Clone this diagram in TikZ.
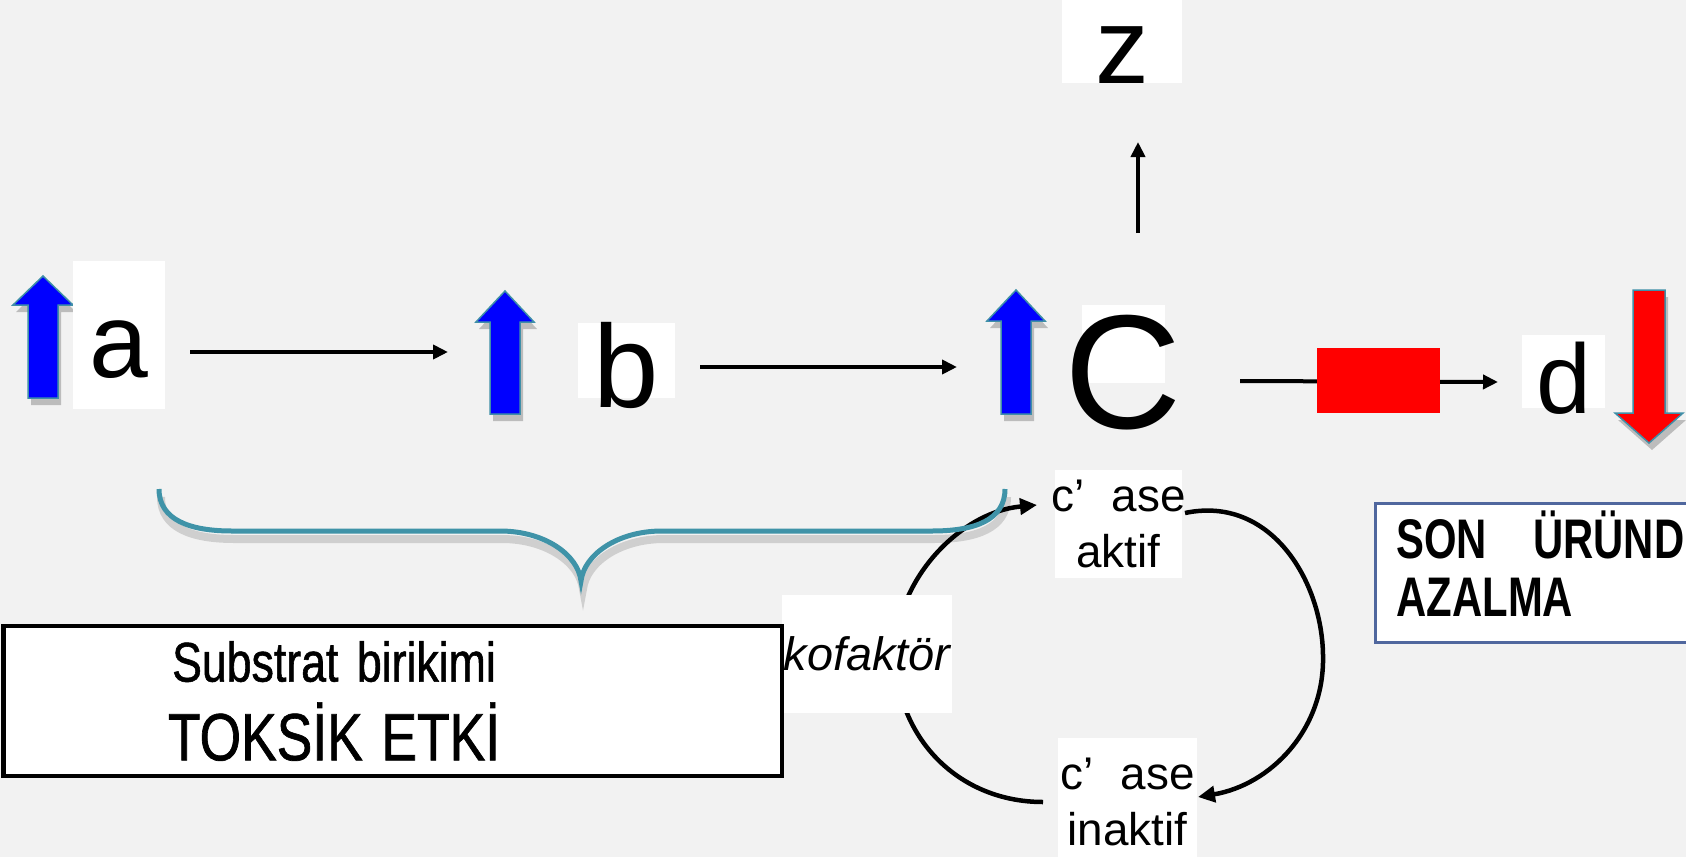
\documentclass[tikz,border=0pt]{standalone}
\usepackage{fontspec}
\setmainfont{Liberation Sans}
\newfontfamily\narrowfont[FakeStretch=0.8,FakeBold=1]{Liberation Sans}
\newfontfamily\sonfont[FakeStretch=0.75]{Liberation Sans Bold}
\usetikzlibrary{arrows.meta}
\definecolor{bgc}{HTML}{F2F2F2}
\definecolor{bracec}{HTML}{3F93A8}
\definecolor{sonc}{HTML}{50679E}
\definecolor{arrowedge}{HTML}{3F8FA8}
\newcommand\fatarrow[7]{%
  \fill[black,opacity=0.22,shift={(3,7)}] ({#1-#6},#4) -- ({#1-#6},#3) -- ({#1-#5},#3) -- (#1,#2) -- ({#1+#5},#3) -- ({#1+#6},#3) -- ({#1+#6},#4) -- cycle;
  \filldraw[fill=#7,draw=arrowedge,line width=1.5bp] ({#1-#6},#4) -- ({#1-#6},#3) -- ({#1-#5},#3) -- (#1,#2) -- ({#1+#5},#3) -- ({#1+#6},#3) -- ({#1+#6},#4) -- cycle;}
\begin{document}
\begin{tikzpicture}[x=1bp,y=-1bp,
  lbl/.style={fill=white,inner sep=0pt,align=center},
  conn/.style={line width=4bp,-{Triangle[length=15bp,width=14bp]}},
  cyc/.style={line width=4.5bp,-{Triangle[length=17bp,width=16bp]}}]
\useasboundingbox (0,0) rectangle (1686,857);
\clip (0,0) rectangle (1686,857);
\fill[bgc] (0,0) rectangle (1686,857);

% fat arrows
\fatarrow{43}{276}{305}{398}{30}{15}{blue}
\fatarrow{505}{291}{322}{414}{29}{15}{blue}
\fatarrow{1016}{290}{321}{414}{29}{15}{blue}
\fatarrow{1649}{443}{413}{290}{34}{16}{red}

% cycle arcs
\coordinate (l1) at (1043,802);
\coordinate (l2) at (1037,505);
\coordinate (r1) at (1185,513);
\coordinate (r2) at (1198,797);
\draw[cyc] (l1) .. controls (960,802) and (897,740) .. (895,655) .. controls (895,580) and (960,512) .. (l2);
\draw[cyc] (r1) .. controls (1270,495) and (1322,580) .. (1323,655) .. controls (1325,730) and (1270,785) .. (r2);

% letter nodes
\node[lbl,text width=92bp,text height=116bp,text depth=32bp,anchor=base,font=\fontsize{106}{110}\selectfont] (a) at (119,377) {\makebox[0pt]{a}};
\node[lbl,text width=97bp,text height=75bp,text depth=0bp,anchor=base,font=\fontsize{118}{120}\selectfont] (b) at (626.5,398) {\makebox[0pt]{\raisebox{-9bp}{b}}};
\node[lbl,text width=83bp,text height=78bp,text depth=0bp,anchor=base,font=\fontsize{163}{165}\selectfont] (c) at (1123.5,383) {\makebox[0pt]{\raisebox{-45bp}{C}}};
\node[lbl,text width=83bp,text height=73bp,text depth=0bp,anchor=base,font=\fontsize{99}{100}\selectfont] (d) at (1563.5,408) {\makebox[0pt]{\raisebox{-5bp}{d}}};
\node[lbl,text width=120bp,text height=83bp,text depth=0bp,anchor=base,font=\fontsize{108}{110}\selectfont] (z) at (1122,83) {\makebox[0pt]{z}};

% main connectors
\coordinate (ab1) at (190,352);
\coordinate (ab2) at (448,352);
\coordinate (bc1) at (700,367);
\coordinate (bc2) at (957,367);
\coordinate (cz1) at (1138,233);
\coordinate (cz2) at (1138,142);
\coordinate (cd1) at (1240,381);
\coordinate (cd2) at (1498,382);
\draw[conn] (ab1) -- (ab2);
\draw[conn] (bc1) -- (bc2);
\draw[conn] (cz1) -- (cz2);
\draw[conn] (cd1) -- (cd2);
\node[fill=red,inner sep=0pt,minimum width=123bp,minimum height=65bp] (blk) at (1378.5,380.5) {};

% kofaktor
\node[lbl,text width=170bp,text height=75bp,text depth=43bp,anchor=base,font=\itshape\fontsize{47}{50}\selectfont] (kof) at (867,670) {\makebox[0pt]{kofaktör}};

% enzyme states
\node[lbl,minimum width=127bp,minimum height=108bp,font=\fontsize{46}{56}\selectfont] (act) at (1118.5,524) {\makebox[0pt]{c’\hspace{0.6em}ase}\\aktif};
\node[lbl,minimum width=139bp,minimum height=128bp,font=\fontsize{46}{56}\selectfont] (ina) at (1127.5,802) {\makebox[0pt]{c’\hspace{0.6em}ase}\\inaktif};

% brace
\draw[line width=8bp,black,opacity=0.14,shift={(2,8)}] (159,489) .. controls (159,520) and (190,531) .. (232,531) -- (500,531) .. controls (545,531) and (578,555) .. (581,581) .. controls (584,555) and (617,531) .. (662,531) -- (932,531) .. controls (975,531) and (1005,520) .. (1005,489);
\draw[line width=5bp,bracec] (159,489) .. controls (159,520) and (190,531) .. (232,531) -- (500,531) .. controls (545,531) and (578,555) .. (581,581) .. controls (584,555) and (617,531) .. (662,531) -- (932,531) .. controls (975,531) and (1005,520) .. (1005,489);

% boxes
\node[draw=black,line width=4bp,fill=white,anchor=north west,minimum width=778bp,minimum height=150bp,text width=778bp,inner sep=0pt,align=left,font=\narrowfont\fontsize{56}{79}\selectfont] (sub) at (1.5,624) {\makebox[661bp]{Substrat birikimi}\\\makebox[661bp]{\fontsize{67}{79}\selectfont TOKSİK ETKİ}};
\node[draw=sonc,line width=3bp,fill=white,anchor=north west,minimum height=139bp,text width=360bp,inner xsep=21bp,inner ysep=0pt,align=left,font=\sonfont\fontsize{56}{58}\selectfont] (son) at (1374,502) {SON\hspace{46bp}ÜRÜNDE\\AZALMA\rule[-18bp]{0pt}{0pt}};
\end{tikzpicture}
\end{document}
